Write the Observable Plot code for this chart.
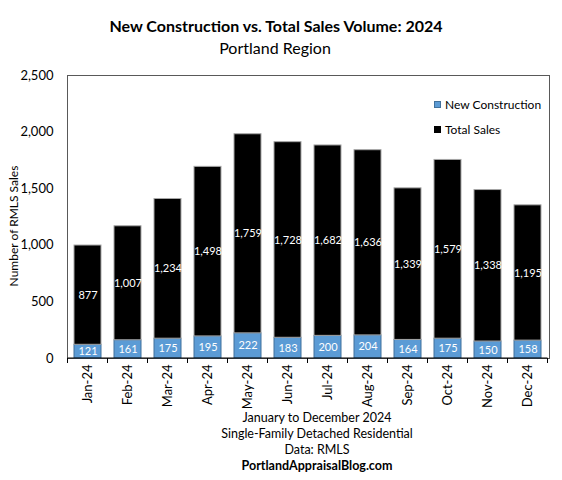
<!DOCTYPE html>
<html>
<head>
<meta charset="utf-8">
<script src="https://cdn.jsdelivr.net/npm/d3@7"></script>
<script src="https://cdn.jsdelivr.net/npm/@observablehq/plot@0.6"></script>
<style>
  html, body { margin: 0; padding: 0; background: #fff; }
  body { font-family: Lato, "Open Sans", sans-serif; color: #000; }
  #wrap { position: relative; width: 562px; height: 480px; overflow: hidden; }
  .abs { position: absolute; white-space: nowrap; }
  #title { left: 0; width: 552px; top: 16px; text-align: center; font-weight: bold; font-size: 16px; }
  #subtitle { left: 0; width: 550px; top: 38px; text-align: center; font-size: 16px; }
  #ylabel { left: 13px; top: 226px; font-size: 12px; transform: translate(-50%, -50%) rotate(-90deg); }
  .leg { font-size: 12px; left: 434px; }
  .sw { display: inline-block; width: 7px; height: 7px; margin-right: 4px; vertical-align: 1px; box-sizing: border-box; }
  #caption { left: 167px; width: 300px; top: 410px; text-align: center; font-size: 12.5px; line-height: 16px; }
</style>
</head>
<body>
<div id="wrap">
  <div id="chart"></div>
  <div id="title" class="abs">New Construction vs. Total Sales Volume: 2024</div>
  <div id="subtitle" class="abs">Portland Region</div>
  <div id="ylabel" class="abs">Number of RMLS Sales</div>
  <div class="abs leg" style="top:97px"><span class="sw" style="background:#5B9BD5;border:1px solid #41719C"></span>New Construction</div>
  <div class="abs leg" style="top:122px"><span class="sw" style="background:#000"></span>Total Sales</div>
  <div id="caption" class="abs">January to December 2024<br>Single-Family Detached Residential<br>Data: RMLS<br><b>PortlandAppraisalBlog.com</b></div>
</div>
<script>
const months = ["Jan-24","Feb-24","Mar-24","Apr-24","May-24","Jun-24","Jul-24","Aug-24","Sep-24","Oct-24","Nov-24","Dec-24"];
const newConstruction = [121,161,175,195,222,183,200,204,164,175,150,158];
const otherSales = [877,1007,1234,1498,1759,1728,1682,1636,1339,1579,1338,1195];
const yTicks = [0,500,1000,1500,2000,2500];
const seriesNames = ["New Construction","Total Sales"];
const fills = {"New Construction": "#5B9BD5", "Total Sales": "#000000"};
const strokes = {"New Construction": "#41719C", "Total Sales": "#a6a6a6"};

const data = [];
months.forEach((m, i) => {
  data.push({month: m, type: seriesNames[0], value: newConstruction[i]});
  data.push({month: m, type: seriesNames[1], value: otherSales[i]});
});

const PAD = 0.32;
const fmt = d3.format(",");

function boundaryTicks(index, scales, values, dimensions) {
  const x = scales.x;
  const step = x.step ? x.step() : (x(months[1]) - x(months[0]));
  const bw = x.bandwidth ? x.bandwidth() : step * (1 - PAD);
  const yb = dimensions.height - dimensions.marginBottom;
  const g = d3.create("svg:g").attr("stroke", "#000").attr("stroke-width", 1);
  const xs = months.map(m => x(m) + bw / 2 - step / 2);
  xs.push(x(months[months.length - 1]) + bw / 2 + step / 2);
  xs.forEach(v => g.append("line").attr("x1", v).attr("x2", v).attr("y1", yb).attr("y2", yb + 5));
  g.append("line").attr("x1", xs[0]).attr("x2", xs[xs.length - 1]).attr("y1", yb).attr("y2", yb);
  return g.node();
}

const plot = Plot.plot({
  width: 562,
  height: 480,
  marginTop: 75,
  marginBottom: 122,
  marginLeft: 67,
  marginRight: 13,
  style: {fontFamily: "Lato, 'Open Sans', sans-serif", background: "transparent"},
  x: {domain: months, paddingInner: PAD, paddingOuter: PAD / 2, label: null},
  y: {domain: [0, 2500], label: null},
  color: {type: "identity"},
  marks: [
    Plot.frame({stroke: "#595959", strokeWidth: 1}),
    Plot.barY(data, {x: "month", y: "value", z: "type", fill: d => fills[d.type], stroke: d => strokes[d.type], strokeWidth: 1}),
    Plot.text(data, Plot.stackY({x: "month", y: "value", z: "type", text: d => fmt(d.value), fill: "white", fontSize: 11})),
    Plot.axisY({ticks: yTicks, tickFormat: fmt, tickSize: 0, tickPadding: 14, fontSize: 13, label: null}),
    Plot.axisX({tickSize: 0, tickRotate: -90, tickPadding: 6, fontSize: 13, label: null}),
    boundaryTicks
  ]
});
document.getElementById("chart").appendChild(plot);
</script>
</body>
</html>
